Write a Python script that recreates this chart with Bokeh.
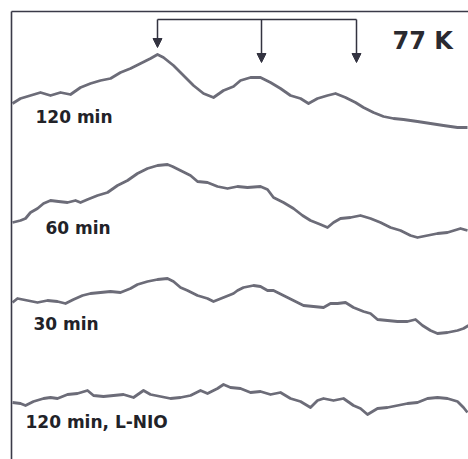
from bokeh.plotting import figure
from bokeh.models import Arrow, NormalHead, Label, Range1d
from bokeh.embed import file_html
from bokeh.resources import INLINE

# Magnetic field (arbitrary units, left -> right) and EPR signal (arbitrary units)
field_120 = [4,12,22,32,42,52,62,72,82,92,102,112,122,132,142,149,155,165,175,185,195,205,215,225,232,242,252,262,272,282,292,300,309,319,327,337,347,355,365,375,385,395,409,422,435,449,459]
sig_120 = [356,361,364,367,364,367,365,372,376,379,381,387,391,396,401,405,402,394,384,374,366,362,369,373,379,382,382,377,371,364,361,356,361,364,366,362,357,352,347,343,341,340,338,336,334,332,332]

field_60 = [4,12,17,22,29,35,42,50,59,67,72,79,89,99,109,119,129,139,149,159,164,172,182,189,199,209,219,229,239,252,259,265,275,285,294,302,312,319,325,332,342,352,362,372,382,392,402,409,419,429,439,452,459]
sig_60 = [237,239,241,247,251,256,259,258,257,259,257,260,264,267,274,279,286,291,294,295,293,289,284,278,277,273,271,273,272,273,270,262,257,251,244,239,235,232,237,241,242,244,241,237,232,229,224,222,224,226,227,231,229]

field_30 = [4,9,19,29,39,49,57,65,74,82,92,102,112,122,129,139,149,159,165,172,179,189,199,205,215,225,229,235,245,252,259,265,275,285,295,305,315,322,329,337,345,355,362,369,379,389,399,407,414,422,429,439,449,455,460]
sig_30 = [157,161,159,157,159,158,156,160,164,166,167,168,167,171,175,178,180,181,178,172,169,164,161,158,162,166,169,172,174,173,169,169,164,159,154,153,152,156,156,157,152,148,146,140,139,138,138,140,134,129,126,127,129,131,134]

field_lnio = [4,12,17,25,35,42,49,59,69,79,85,95,105,115,125,135,142,152,162,172,182,192,199,209,215,222,232,242,252,262,272,282,292,302,309,315,325,335,345,352,359,369,379,389,399,409,419,429,439,449,455,459]
sig_lnio = [57,56,54,58,61,62,61,65,66,69,64,63,64,65,62,69,65,63,61,62,64,69,66,71,75,72,71,67,68,65,67,61,58,52,59,61,59,61,54,51,45,51,52,54,56,57,61,62,61,58,52,47]

trace_labels = ["120 min", "60 min", "30 min", "120 min, L-NIO"]
label_field = [27, 37, 25, 17]
label_signal = [343, 232, 136, 38]

peak_fields = [149, 253, 348]
peak_tips = [412, 397, 397]
bracket_level = 440

temp_label = "77 K"

X_MAX, Y_MAX = 460, 451
FRAME_X, FRAME_Y = 3, 448

p = figure(width=468, height=459, output_backend="svg", toolbar_location=None,
           x_range=Range1d(0, X_MAX), y_range=Range1d(0, Y_MAX),
           x_axis_type=None, y_axis_type=None,
           min_border_left=8, min_border_right=0, min_border_top=8, min_border_bottom=0)
p.grid.visible = False
p.outline_line_color = None
p.background_fill_color = "white"
p.border_fill_color = "white"

# frame (left and top edges visible in the cropped figure)
p.segment(x0=[FRAME_X, FRAME_X], y0=[0, FRAME_Y], x1=[FRAME_X, X_MAX], y1=[FRAME_Y, FRAME_Y],
          line_color="#3a3a48", line_width=1.6)

trace_color = "#6c6c78"
for fx, sy in [(field_120, sig_120), (field_60, sig_60), (field_30, sig_30), (field_lnio, sig_lnio)]:
    p.line(fx, sy, line_color=trace_color, line_width=2.8, line_join="round")

# bracket with arrows
p.segment(x0=[peak_fields[0]], y0=[bracket_level], x1=[peak_fields[-1]], y1=[bracket_level],
          line_color="#333340", line_width=1.5)
for fx, tip in zip(peak_fields, peak_tips):
    p.add_layout(Arrow(end=NormalHead(size=9, fill_color="#333340", line_color="#333340", line_width=1),
                       x_start=fx, y_start=bracket_level, x_end=fx, y_end=tip,
                       line_color="#333340", line_width=1.5))

for txt, lx, ly in zip(trace_labels, label_field, label_signal):
    p.add_layout(Label(x=lx, y=ly, text=txt, text_font="DejaVu Sans", text_font_style="bold",
                       text_font_size="17px", text_color="#222228", text_baseline="middle",
                       text_align="left"))

p.add_layout(Label(x=384, y=419, text=temp_label, text_font="DejaVu Sans", text_font_style="bold",
                   text_font_size="24px", text_color="#2a2a30", text_baseline="middle",
                   text_align="left"))

open("out.html", "w").write(file_html(p, INLINE))
